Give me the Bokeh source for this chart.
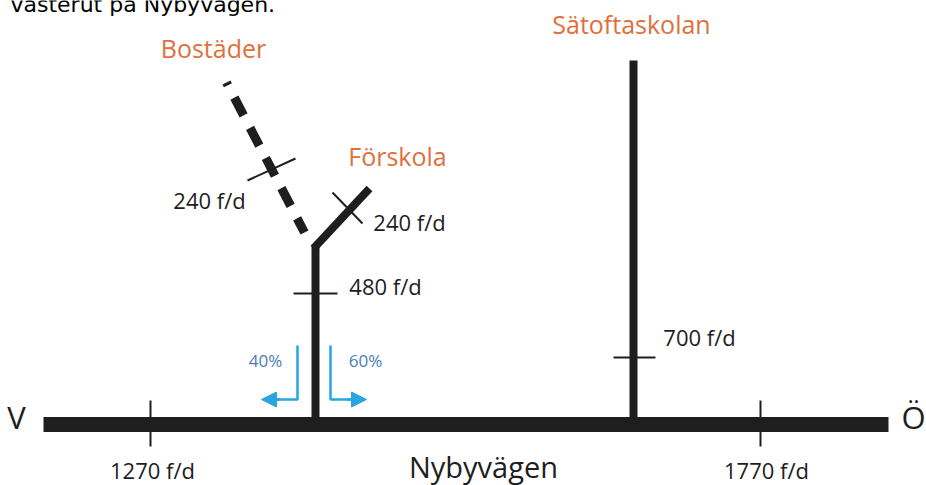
from bokeh.plotting import figure
from bokeh.models import Range1d, Arrow, NormalHead
from bokeh.core.properties import value
from bokeh.embed import file_html
from bokeh.resources import INLINE

# ---- content ----
destinations = ["Bostäder", "Förskola", "Sätoftaskolan"]
main_road = "Nybyvägen"
directions = ["V", "Ö"]
flow_main = ["1270 f/d", "1770 f/d"]
flow_side = ["480 f/d", "240 f/d", "240 f/d", "700 f/d"]
split_pct = ["40%", "60%"]
caption = "västerut på Nybyvägen."

BLACK = "#1e1e1e"
ORANGE = "#e0703c"
BLUE = "#29a6df"
PCT = "#4a7db6"
FONT = "Open Sans"

p = figure(width=926, height=485, x_range=Range1d(0, 926), y_range=Range1d(485, 0),
           output_backend="svg", toolbar_location=None, x_axis_type=None, y_axis_type=None,
           min_border=0, background_fill_color="white")
p.grid.visible = False
p.outline_line_color = None

# main road
p.segment(x0=[43], y0=[424], x1=[888], y1=[424], line_width=15, line_color=BLACK)
# side roads
p.segment(x0=[315, 633], y0=[424, 424], x1=[315, 633], y1=[245, 60], line_width=8, line_color=BLACK)
p.segment(x0=[313], y0=[248], x1=[369], y1=[188], line_width=8, line_color=BLACK)
p.segment(x0=[304], y0=[232], x1=[226], y1=[82], line_width=9, line_color=BLACK,
          line_dash="20 14", line_dash_offset=4, line_cap="butt")

# count markers
p.segment(x0=[150, 760, 293, 613, 247, 332], y0=[400, 400, 293, 357, 180, 192],
          x1=[150, 760, 337, 655, 295, 362], y1=[446, 446, 293, 357, 158, 223],
          line_width=2, line_color=BLACK)

# turning arrows
p.multi_line(xs=[[297, 297, 272], [330, 330, 355]], ys=[[345, 399, 399], [345, 399, 399]],
             line_width=2.5, line_color=BLUE)
for x0, x1 in [(280, 261), (347, 366)]:
    p.add_layout(Arrow(x_start=x0, y_start=399, x_end=x1, y_end=399, line_color=BLUE, line_width=2.5,
                       end=NormalHead(size=15, fill_color=BLUE, line_color=BLUE)))

# texts
p.text(x=[213, 397, 631], y=[47, 155, 23], text=destinations, text_font=value(FONT),
       text_font_size="25px", text_color=ORANGE, text_align="center", text_baseline="middle")
p.text(x=[152, 766], y=[469, 469], text=flow_main, text_font=value(FONT),
       text_font_size="22px", text_color=BLACK, text_align="center", text_baseline="middle")
p.text(x=[385, 209, 409, 699], y=[285, 199, 221, 336], text=flow_side, text_font=value(FONT),
       text_font_size="22px", text_color=BLACK, text_align="center", text_baseline="middle")
p.text(x=[483], y=[466], text=[main_road], text_font=value(FONT),
       text_font_size="29px", text_color=BLACK, text_align="center", text_baseline="middle")
p.text(x=[16, 913], y=[416, 416], text=directions, text_font=value(FONT),
       text_font_size="31px", text_color=BLACK, text_align="center", text_baseline="middle")
p.text(x=[265, 365], y=[360, 360], text=split_pct, text_font=value(FONT),
       text_font_size="17px", text_color=PCT, text_align="center", text_baseline="middle")
p.text(x=[10], y=[4], text=[caption], text_font=value("DejaVu Sans"),
       text_font_size="22px", text_color="black", text_align="left", text_baseline="alphabetic")

open("out.html", "w").write(file_html(p, INLINE))
